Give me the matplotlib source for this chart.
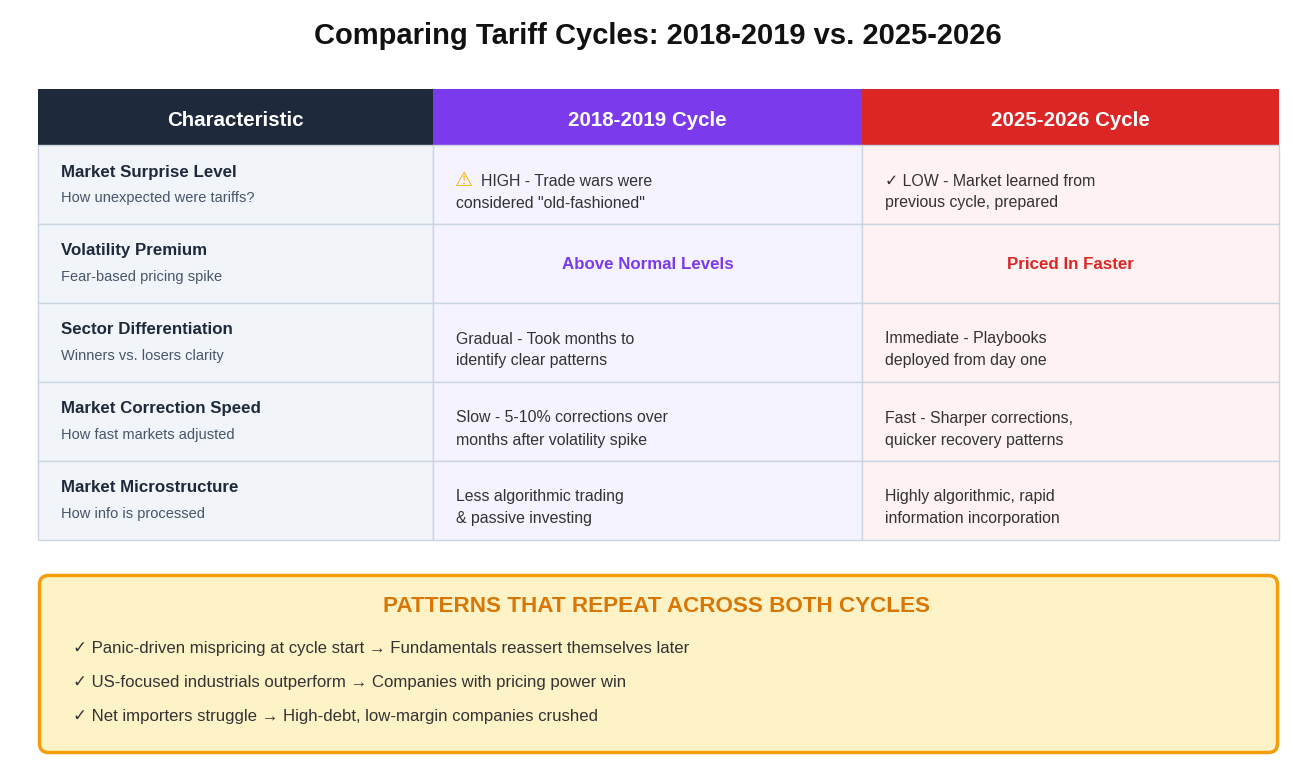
import matplotlib
matplotlib.use('Agg')
import matplotlib.pyplot as plt
from matplotlib.patches import Rectangle, FancyBboxPatch

plt.rcParams['font.family'] = ['Liberation Sans', 'DejaVu Sans']

# table content
title = "Comparing Tariff Cycles: 2018-2019 vs. 2025-2026"
headers = ["Characteristic", "2018-2019 Cycle", "2025-2026 Cycle"]
row_titles = ["Market Surprise Level", "Volatility Premium", "Sector Differentiation",
              "Market Correction Speed", "Market Microstructure"]
row_subs = ["How unexpected were tariffs?", "Fear-based pricing spike", "Winners vs. losers clarity",
            "How fast markets adjusted", "How info is processed"]
cycle_2018 = ["HIGH - Trade wars were\nconsidered \"old-fashioned\"",
              "Above Normal Levels",
              "Gradual - Took months to\nidentify clear patterns",
              "Slow - 5-10% corrections over\nmonths after volatility spike",
              "Less algorithmic trading\n& passive investing"]
cycle_2025 = ["\u2713 LOW - Market learned from\nprevious cycle, prepared",
              "Priced In Faster",
              "Immediate - Playbooks\ndeployed from day one",
              "Fast - Sharper corrections,\nquicker recovery patterns",
              "Highly algorithmic, rapid\ninformation incorporation"]
highlight_row = 1   # row shown as centered bold text

patterns_title = "PATTERNS THAT REPEAT ACROSS BOTH CYCLES"
patterns = ["Panic-driven mispricing at cycle start \u2192 Fundamentals reassert themselves later",
            "US-focused industrials outperform \u2192 Companies with pricing power win",
            "Net importers struggle \u2192 High-debt, low-margin companies crushed"]

# colours
head_colors = ["#1e293b", "#7c3aed", "#dc2626"]
cell_colors = ["#f1f5f9", "#f5f3ff", "#fef2f2"]
border = "#cbd5e1"
body_col = '#333333'

W, H = 1293, 780
fig = plt.figure(figsize=(W / 100, H / 100), dpi=100)
ax = fig.add_axes([0, 0, 1, 1])
ax.set_xlim(0, W)
ax.set_ylim(H, 0)
ax.axis('off')

ax.text(W / 2 + 11, 36, title, ha='center', va='center', fontsize=21, fontweight='bold', color='#111111')

# grid geometry
col_x = [38, 433, 862, 1279]
head_top, head_h = 89, 56
row_h = 79

for c in range(3):
    x0, x1 = col_x[c], col_x[c + 1]
    ax.add_patch(Rectangle((x0, head_top), x1 - x0, head_h, facecolor=head_colors[c], edgecolor='none'))
    ax.text((x0 + x1) / 2, head_top + head_h / 2 + 3.5, headers[c], ha='center', va='center',
            fontsize=14.8, fontweight='bold', color='white')

for r in range(len(row_titles)):
    top = head_top + head_h + r * row_h
    for c in range(3):
        x0, x1 = col_x[c], col_x[c + 1]
        ax.add_patch(Rectangle((x0, top), x1 - x0, row_h, facecolor=cell_colors[c],
                               edgecolor=border, linewidth=1))
    ax.text(61, top + 27, row_titles[r], ha='left', va='center', fontsize=12.2,
            fontweight='bold', color='#1e293b')
    ax.text(61, top + 53, row_subs[r], ha='left', va='center', fontsize=10.5, color='#475569')

    if r == highlight_row:
        ax.text((col_x[1] + col_x[2]) / 2, top + row_h / 2 + 1, cycle_2018[r], ha='center', va='center',
                fontsize=12.2, fontweight='bold', color=head_colors[1])
        ax.text((col_x[2] + col_x[3]) / 2, top + row_h / 2 + 1, cycle_2025[r], ha='center', va='center',
                fontsize=12.2, fontweight='bold', color=head_colors[2])
        continue

    lines18 = cycle_2018[r].split("\n")
    lines25 = cycle_2025[r].split("\n")
    x18 = 456
    if r == 0:
        # warning sign in front of first line
        ax.text(455, top + 35, "\u26a0", ha='left', va='center', fontsize=14.5,
                fontweight='bold', color='#f5b400')
        x18 = 481
    ax.text(x18, top + 36, lines18[0], ha='left', va='center', fontsize=11.4, color=body_col)
    ax.text(456, top + 58, lines18[1], ha='left', va='center', fontsize=11.4, color=body_col)
    ax.text(885, top + 36, lines25[0], ha='left', va='center', fontsize=11.4, color=body_col)
    ax.text(885, top + 58, lines25[1], ha='left', va='center', fontsize=11.4, color=body_col)

# patterns box
ax.add_patch(FancyBboxPatch((39.5, 575.5), 1238, 177, boxstyle="round,pad=0,rounding_size=9",
                            facecolor="#fef3c7", edgecolor="#f59e0b", linewidth=2.5))
ax.text(W / 2 + 10, 607, patterns_title, ha='center', va='center', fontsize=16.2,
        fontweight='bold', color='#d97706')
for i, p in enumerate(patterns):
    ax.text(73, 648 + i * 34, "\u2713 " + p, ha='left', va='center', fontsize=12.1, color=body_col)

fig.savefig('out.png', dpi=100)
plt.close()
